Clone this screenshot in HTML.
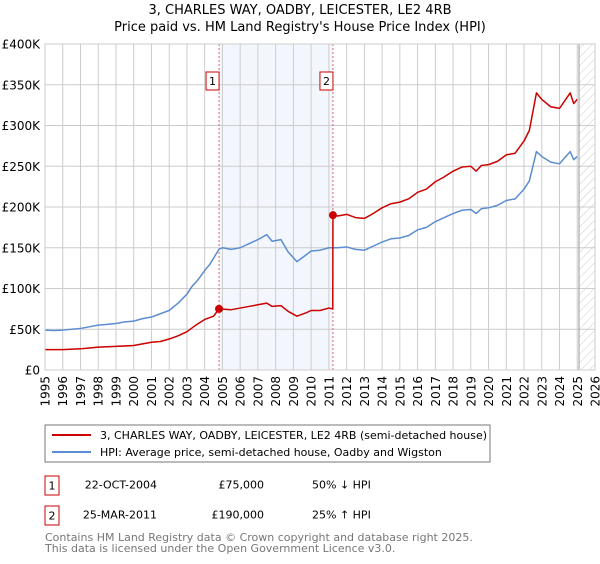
<!DOCTYPE html>
<html><head><meta charset="utf-8"><style>
body{margin:0;background:#fff;font-family:"DejaVu Sans","Liberation Sans",sans-serif;}
svg text{font-family:"DejaVu Sans","Liberation Sans",sans-serif;}
</style></head><body>
<svg id="c" width="600" height="560" xmlns="http://www.w3.org/2000/svg">
<defs><pattern id="hatch" width="6" height="6" patternUnits="userSpaceOnUse" patternTransform="rotate(45)"><line x1="0" y1="0" x2="0" y2="6" stroke="#ccc" stroke-width="1"/></pattern></defs>
<text x="300" y="14" text-anchor="middle" font-size="13">3, CHARLES WAY, OADBY, LEICESTER, LE2 4RB</text>
<text x="300" y="31" text-anchor="middle" font-size="13">Price paid vs. HM Land Registry's House Price Index (HPI)</text>
<g id="plot"></g>
<rect x="45" y="425" width="445" height="37" fill="#fff" stroke="#777"/>
<line x1="52" y1="435" x2="91" y2="435" stroke="#cc0000" stroke-width="2"/>
<text x="100" y="439" font-size="11">3, CHARLES WAY, OADBY, LEICESTER, LE2 4RB (semi-detached house)</text>
<line x1="52" y1="452" x2="91" y2="452" stroke="#5b8dd0" stroke-width="2"/>
<text x="100" y="456" font-size="11">HPI: Average price, semi-detached house, Oadby and Wigston</text>
<g>
<rect x="45" y="476" width="14" height="19" fill="#fff" stroke="#cc0000"/>
<text x="52" y="489.5" font-size="11" text-anchor="middle">1</text>
<text x="157" y="488.5" font-size="11" text-anchor="end">22-OCT-2004</text>
<text x="264" y="488.5" font-size="11" text-anchor="end">£75,000</text>
<text x="312" y="488.5" font-size="11">50% ↓ HPI</text></g>
<g>
<rect x="45" y="506" width="14" height="19" fill="#fff" stroke="#cc0000"/>
<text x="52" y="519.5" font-size="11" text-anchor="middle">2</text>
<text x="157" y="518.5" font-size="11" text-anchor="end">25-MAR-2011</text>
<text x="264" y="518.5" font-size="11" text-anchor="end">£190,000</text>
<text x="312" y="518.5" font-size="11">25% ↑ HPI</text></g>
<text x="45" y="541" font-size="11" fill="#777">Contains HM Land Registry data © Crown copyright and database right 2025.</text>
<text x="45" y="552" font-size="11" fill="#777">This data is licensed under the Open Government Licence v3.0.</text>
</svg>
<script>
const hpiYears=[1995,1995.5,1996,1996.5,1997,1997.5,1998,1998.5,1999,1999.5,2000,2000.5,2001,2001.5,2002,2002.5,2003,2003.3,2003.6,2004,2004.3,2004.8,2005,2005.5,2006,2006.5,2007,2007.5,2007.8,2008.3,2008.7,2009.2,2009.7,2010,2010.5,2011,2011.5,2012,2012.5,2013,2013.5,2014,2014.5,2015,2015.5,2016,2016.5,2017,2017.5,2018,2018.5,2019,2019.3,2019.6,2020,2020.5,2021,2021.5,2022,2022.3,2022.7,2023,2023.5,2024,2024.6,2024.8,2025];
const hpiValues=[49,48.5,49,50,51,53,55,56,57,59,60,63,65,69,73,82,93,103,110,122,130,148,150,148,150,155,160,166,158,160,145,133,141,146,147,150,150,151,148,147,152,157,161,162,165,172,175,182,187,192,196,197,192,198,199,202,208,210,222,232,268,262,255,253,268,258,262];
const priceYears=[1995,1996,1997,1997.5,1998,1999,2000,2000.5,2001,2001.5,2002,2002.5,2003,2003.5,2004,2004.5,2004.81,2005.5,2006,2006.5,2007,2007.5,2007.8,2008.3,2008.7,2009.2,2009.7,2010,2010.5,2011,2011.22,2011.23,2011.5,2012,2012.5,2013,2013.5,2014,2014.5,2015,2015.5,2016,2016.5,2017,2017.5,2018,2018.5,2019,2019.3,2019.6,2020,2020.5,2021,2021.5,2022,2022.3,2022.7,2023,2023.5,2024,2024.6,2024.8,2025];
const priceValues=[25,25,26,27,28,29,30,32,34,35,38,42,47,55,62,66,75,74,76,78,80,82,78,79,72,66,70,73,73,76,75,190,189,191,187,186,192,199,204,206,210,218,222,231,237,244,249,250,244,251,252,256,264,266,281,294,340,332,323,321,340,327,332];
const saleYears=[2004.81,2011.23];
const saleValues=[75,190];
const saleLabels=["1","2"];
const yTicks=[0,50,100,150,200,250,300,350,400];
const yTickLabels=["£0","£50K","£100K","£150K","£200K","£250K","£300K","£350K","£400K"];
const xTicks=[1995,1996,1997,1998,1999,2000,2001,2002,2003,2004,2005,2006,2007,2008,2009,2010,2011,2012,2013,2014,2015,2016,2017,2018,2019,2020,2021,2022,2023,2024,2025,2026];
const L=45,R=595,T=44,B=370,X0=1995,X1=2026,Ymax=400;
const xs=v=>L+(v-X0)/(X1-X0)*(R-L);
const ys=v=>B-v/Ymax*(B-T);
const NS="http://www.w3.org/2000/svg";
const g=document.getElementById('plot');
function mk(t,a,p){const e=document.createElementNS(NS,t);for(const k in a)e.setAttribute(k,a[k]);(p||g).appendChild(e);return e;}
const sh=mk('rect',{x:xs(saleYears[0]),y:T,width:xs(saleYears[1])-xs(saleYears[0]),height:B-T,fill:'#eef3fc',opacity:0.7});


const ht=mk('rect',{x:xs(2025.1),y:T,width:R-xs(2025.1),height:B-T,fill:'url(#hatch)'});


xTicks.forEach(t=>{const l=mk('line',{x1:xs(t),x2:xs(t),y1:T,y2:B,stroke:'#ccc','stroke-width':1});


const tg=mk('g',{transform:'translate('+(xs(t)+4.5)+','+(B+6)+') rotate(-90)'});
const tx=mk('text',{x:0,y:0,'font-size':12,'text-anchor':'end'},tg);tx.textContent=t;

});
yTicks.forEach((t,i)=>{const l=mk('line',{x1:L,x2:R,y1:ys(t),y2:ys(t),stroke:'#ccc','stroke-width':1});


const tx=mk('text',{x:L-5,y:ys(t)+4.5,'font-size':12,'text-anchor':'end'});tx.textContent=yTickLabels[i];

});
const ed=mk('line',{x1:xs(2025.1),x2:xs(2025.1),y1:T,y2:B,stroke:'#999','stroke-width':1});


saleYears.forEach((s,i)=>{const l=mk('line',{x1:xs(s),x2:xs(s),y1:T,y2:B,stroke:'#e06666','stroke-width':1,'stroke-dasharray':'2,2'});


const bx=mk('rect',{x:xs(s)-13,y:72,width:13,height:18,fill:'#fff',stroke:'#cc0000'});


const tx=mk('text',{x:xs(s)-6.5,y:85,'font-size':11,'text-anchor':'middle'});tx.textContent=saleLabels[i];

});
const line=(xa,va,c,n)=>{const p=mk('polyline',{points:xa.map((x,i)=>xs(x)+','+ys(va[i])).join(' '),fill:'none',stroke:c,'stroke-width':1.5,'stroke-linejoin':'round'});

};
line(hpiYears,hpiValues,'#5b8dd0','hpi-line');
line(priceYears,priceValues,'#cc0000','price-line');
saleYears.forEach((s,i)=>{const c=mk('circle',{cx:xs(s),cy:ys(saleValues[i]),r:4,fill:'#cc0000'});

});
const fr=mk('rect',{x:L,y:T,width:R-L,height:B-T,fill:'none',stroke:'#ccc'});


</script>
</body></html>
